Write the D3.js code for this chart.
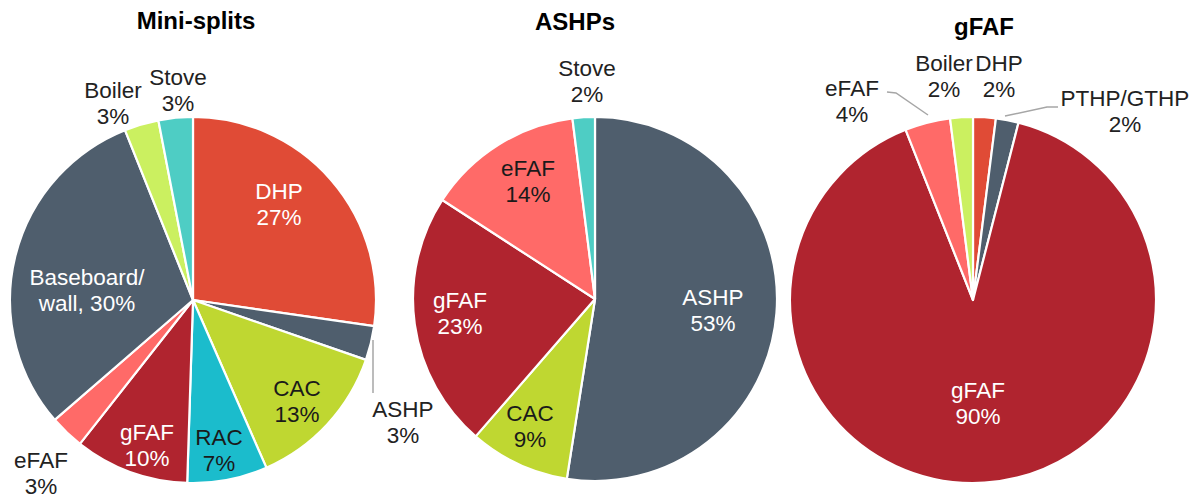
<!DOCTYPE html>
<html>
<head>
<meta charset="utf-8">
<script src="https://cdn.jsdelivr.net/npm/d3@7/dist/d3.min.js"></script>
<style>
  html, body { margin: 0; padding: 0; background: #fff; }
  svg { display: block; }
  text { font-family: "Liberation Sans", Arial, sans-serif; }
</style>
</head>
<body>
<svg id="chart" width="1204" height="498"></svg>
<script>
// ---------- DATA ----------
const titles = ["Mini-splits", "ASHPs", "gFAF"];

const miniCats = ["DHP", "ASHP", "CAC", "RAC", "gFAF", "eFAF", "Baseboard/wall", "Boiler", "Stove"];
const miniVals = [27, 3, 13, 7, 10, 3, 30, 3, 3];

const ashpCats = ["ASHP", "CAC", "gFAF", "eFAF", "Stove"];
const ashpVals = [53, 9, 23, 14, 2];

const gfafCats = ["DHP", "PTHP/GTHP", "gFAF", "eFAF", "Boiler"];
const gfafVals = [2, 2, 90, 4, 2];

// ---------- STYLE / LAYOUT ----------
const colorOf = {
  "DHP": "#E04B36",
  "ASHP": "#4F5E6D",
  "PTHP/GTHP": "#4F5E6D",
  "Baseboard/wall": "#4F5E6D",
  "CAC": "#BFD731",
  "RAC": "#1BBCCC",
  "gFAF": "#B0242F",
  "eFAF": "#FF6A68",
  "Boiler": "#CBF060",
  "Stove": "#4ECDC4"
};

const charts = [
  {
    cats: miniCats, vals: miniVals, title: titles[0],
    cx: 193, cy: 300, r: 183, titleX: 196, titleY: 29,
    labels: {
      "DHP": [86, -101, "#fff"],
      "ASHP": [210, 117, "#222"],
      "CAC": [104, 96, "#1a1a1a"],
      "RAC": [26, 145, "#1a1a1a"],
      "gFAF": [-46, 140, "#fff"],
      "eFAF": [-152, 168, "#222"],
      "Baseboard/wall": [-106, -15, "#fff"],
      "Boiler": [-80, -202, "#222"],
      "Stove": [-15, -215, "#222"]
    },
    leaders: [[[180, 40], [180, 93]]]
  },
  {
    cats: ashpCats, vals: ashpVals, title: titles[1],
    cx: 595, cy: 299, r: 182, titleX: 575, titleY: 30,
    labels: {
      "ASHP": [118, 6, "#fff"],
      "CAC": [-65, 122, "#1a1a1a"],
      "gFAF": [-135, 9, "#fff"],
      "eFAF": [-67, -123, "#1a1a1a"],
      "Stove": [-8, -223, "#222"]
    },
    leaders: []
  },
  {
    cats: gfafCats, vals: gfafVals, title: titles[2],
    cx: 973, cy: 300, r: 183, titleX: 984, titleY: 35,
    labels: {
      "DHP": [26, -229, "#222"],
      "PTHP/GTHP": [152, -194, "#222"],
      "gFAF": [5, 98, "#fff"],
      "eFAF": [-121, -204, "#222"],
      "Boiler": [-29, -229, "#222"]
    },
    leaders: [
      [[-86, -208], [-77, -207], [-45, -185]],
      [[32, -184], [74, -193], [85, -193]]
    ]
  }
];

const lineH = 26;
const svg = d3.select("#chart");

charts.forEach(ch => {
  const data = ch.cats.map((c, i) => ({ cat: c, val: ch.vals[i] }));
  const pie = d3.pie().sort(null).value(d => d.val);
  const arc = d3.arc().innerRadius(0).outerRadius(ch.r);

  // title
  svg.append("text")
    .attr("x", ch.titleX).attr("y", ch.titleY)
    .attr("text-anchor", "middle")
    .attr("font-size", 24).attr("font-weight", "bold")
    .attr("fill", "#000")
    .text(ch.title);

  const g = svg.append("g").attr("transform", `translate(${ch.cx},${ch.cy})`);

  g.selectAll("path.slice")
    .data(pie(data))
    .join("path")
    .attr("class", "slice")
    .attr("d", arc)
    .attr("fill", d => colorOf[d.data.cat])
    .attr("stroke", "#fff")
    .attr("stroke-width", 2.2)
    .attr("stroke-linejoin", "round");

  // leader lines
  const line = d3.line();
  ch.leaders.forEach(pts => {
    g.append("path")
      .attr("d", line(pts))
      .attr("fill", "none")
      .attr("stroke", "#A6A6A6")
      .attr("stroke-width", 1.5);
  });

  // labels
  data.forEach(d => {
    const lp = ch.labels[d.cat];
    const lines = d.cat === "Baseboard/wall"
      ? ["Baseboard/", `wall, ${d.val}%`]
      : [d.cat, `${d.val}%`];
    const t = g.append("text")
      .attr("text-anchor", "middle")
      .attr("font-size", 22.5)
      .attr("fill", lp[2]);
    lines.forEach((s, i) => {
      t.append("tspan")
        .attr("x", lp[0])
        .attr("y", lp[1] + i * lineH)
        .text(s);
    });
  });
});
</script>
</body>
</html>
